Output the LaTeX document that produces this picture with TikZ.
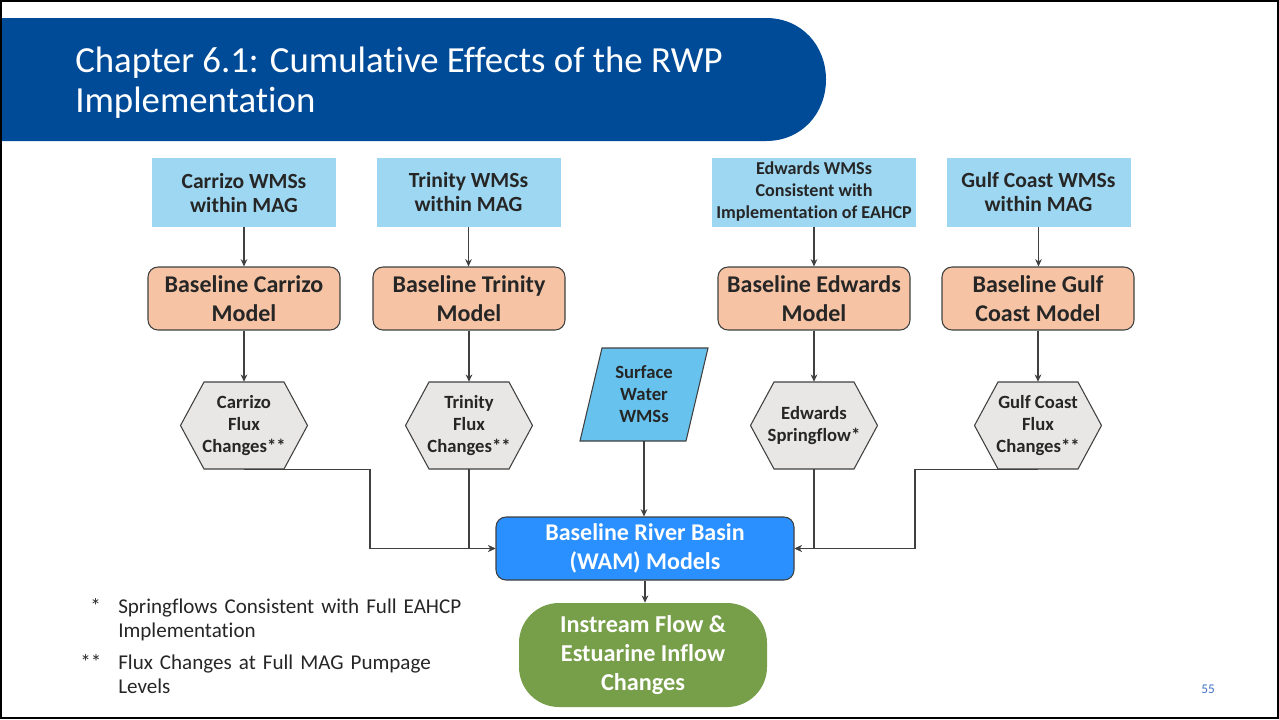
\documentclass[tikz,border=0pt]{standalone}
\usepackage{fontspec}
\setmainfont{Carlito}[Ligatures={NoCommon}]
\usetikzlibrary{arrows.meta,calc}
\definecolor{hdr}{RGB}{0,75,152}
\definecolor{wmsblue}{RGB}{157,215,242}
\definecolor{orng}{RGB}{246,196,165}
\definecolor{hexgray}{RGB}{232,231,230}
\definecolor{swblue}{RGB}{103,195,238}
\definecolor{wamblue}{RGB}{42,143,255}
\definecolor{grn}{RGB}{119,158,73}
\definecolor{txt}{RGB}{38,38,38}
\definecolor{edge}{RGB}{64,64,64}
\definecolor{pgnum}{RGB}{68,114,196}
\newcommand\hexat[2]{\draw[hexline] (#1-63.5,#2) -- (#1-40,#2-43.5) -- (#1+40,#2-43.5) -- (#1+63.5,#2) -- (#1+40,#2+43.5) -- (#1-40,#2+43.5) -- cycle;}
\begin{document}
\begin{tikzpicture}[x=0.75pt,y=-0.75pt,
  wms/.style={fill=wmsblue, draw=none, minimum width=138pt, minimum height=51.75pt, inner sep=0pt, align=center, text=txt, font=\bfseries\fontsize{16.2}{18}\selectfont},
  model/.style={fill=orng, draw=edge, line width=0.8pt, rounded corners=7.5pt, minimum width=144pt, minimum height=47.25pt, inner sep=0pt, align=center, text=txt, font=\bfseries\fontsize{18}{21.75}\selectfont},
  hexnode/.style={draw=none, minimum width=95.25pt, minimum height=65.25pt, inner sep=0pt, align=center, text=txt, font=\bfseries\fontsize{14}{16.5}\selectfont},
  hexline/.style={fill=hexgray, draw=edge, line width=0.8pt},
  arr/.style={draw=edge, line width=0.8pt, -{Stealth[length=5.5pt,width=5pt]}},
  note/.style={anchor=base west, inner sep=0pt, text=txt, align=left, font=\fontsize{15.8}{18}\selectfont}
]
\useasboundingbox (0,0) rectangle (1279,719);
% header band
\fill[hdr] (2,18) -- (766,18) .. controls (802,18) and (826,46) .. (826,79.5) .. controls (826,113) and (802,141) .. (766,141) -- (2,141) -- cycle;
\node[anchor=base west, inner sep=0pt, text=white, font=\fontsize{27.6}{30}\selectfont] (title1) at (75,72) {Chapter 6.1: Cumulative Effects of the RWP};
\node[anchor=base west, inner sep=0pt, text=white, font=\fontsize{27.6}{30}\selectfont] (title2) at (75,112) {Implementation};
% slide frame
\draw[black, line width=1.5pt] (1,1) rectangle (1278,718);

% top WMS boxes
\node[wms] (cw) at (244,192.5) {Carrizo WMSs\\within MAG};
\node[wms] (tw) at (468.5,192) {Trinity WMSs\\within MAG};
\node[wms, minimum width=153pt, font=\bfseries\fontsize{13.6}{16.5}\selectfont] (ew) at (814,192) {Edwards WMSs\\Consistent with\\Implementation of EAHCP};
\node[wms] (gw) at (1038.5,192) {Gulf Coast WMSs\\within MAG};

% baseline models
\node[model] (cb) at (244,298.5) {Baseline Carrizo\\Model};
\node[model] (tb) at (469,298.5) {Baseline Trinity\\Model};
\node[model] (eb) at (814,298.5) {Baseline Edwards\\Model};
\node[model] (gb) at (1038,298.5) {Baseline Gulf\\Coast Model};

% hexagons
\hexat{244}{425.5}
\hexat{469}{425.5}
\hexat{814}{425.5}
\hexat{1038}{425.5}
\node[hexnode] (ch) at (244,425.5) {Carrizo\\Flux\\Changes**};
\node[hexnode] (th) at (469,425.5) {Trinity\\Flux\\Changes**};
\node[hexnode] (eh) at (814,425.5) {Edwards\\Springflow*};
\node[hexnode] (gh) at (1038,425.5) {Gulf Coast\\Flux\\Changes**};

% surface water parallelogram
\draw[fill=swblue, draw=edge, line width=0.8pt] (602,348) -- (708,348) -- (686,441) -- (580,441) -- cycle;
\node[draw=none, minimum width=70pt, minimum height=69.75pt, inner sep=0pt, align=center, text=txt, font=\bfseries\fontsize{14}{16.5}\selectfont] (sw) at (644,394.5) {Surface\\Water\\WMSs};

% WAM models
\node[fill=wamblue, draw=edge, line width=0.8pt, rounded corners=7.5pt, minimum width=223.5pt, minimum height=47.25pt, inner sep=0pt, align=center, text=white, font=\bfseries\fontsize{18}{21.75}\selectfont] (wam) at (645,548.5) {Baseline River Basin\\(WAM) Models};

% instream flow
\node[fill=grn, draw=none, rounded corners=30pt, minimum width=186pt, minimum height=78pt, inner sep=0pt, align=center, text=white, font=\bfseries\fontsize{18.2}{21.75}\selectfont] (gr) at (643,655) {Instream Flow \&\\Estuarine Inflow\\Changes};

% connectors
\draw[arr] (cw) -- (cb);
\draw[arr] (tw.south) -- (tw.south |- tb.north);
\draw[arr] (ew) -- (eb);
\draw[arr] (gw.south) -- (gw.south |- gb.north);
\draw[arr] (cb) -- (ch);
\draw[arr] (tb) -- (th);
\draw[arr] (eb) -- (eh);
\draw[arr] (gb) -- (gh);
\draw[arr] (ch.south) -- ++(126,0) |- (wam.west);
\draw[arr] (th.south) |- (wam.west);
\draw[arr] (sw.south) -- (sw.south |- wam.north);
\draw[arr] (eh.south) |- (wam.east);
\draw[arr] (gh.south) -- ++(-123,0) |- (wam.east);
\draw[arr] (wam.south) -- (wam.south |- gr.north);

% footnotes
\node[note] (s1) at (90,613) {*};
\node[note, text width=300pt] (n1) at (118,613) {Springflows Consistent with Full EAHCP\\Implementation};
\node[note] (s2) at (80,669) {**};
\node[note, text width=300pt] (n2) at (118,669) {Flux Changes at Full MAG Pumpage\\Levels};

% page number
\node[text=pgnum, inner sep=0pt, font=\fontsize{10}{12}\selectfont] (pg) at (1208,689) {55};
\end{tikzpicture}
\end{document}
